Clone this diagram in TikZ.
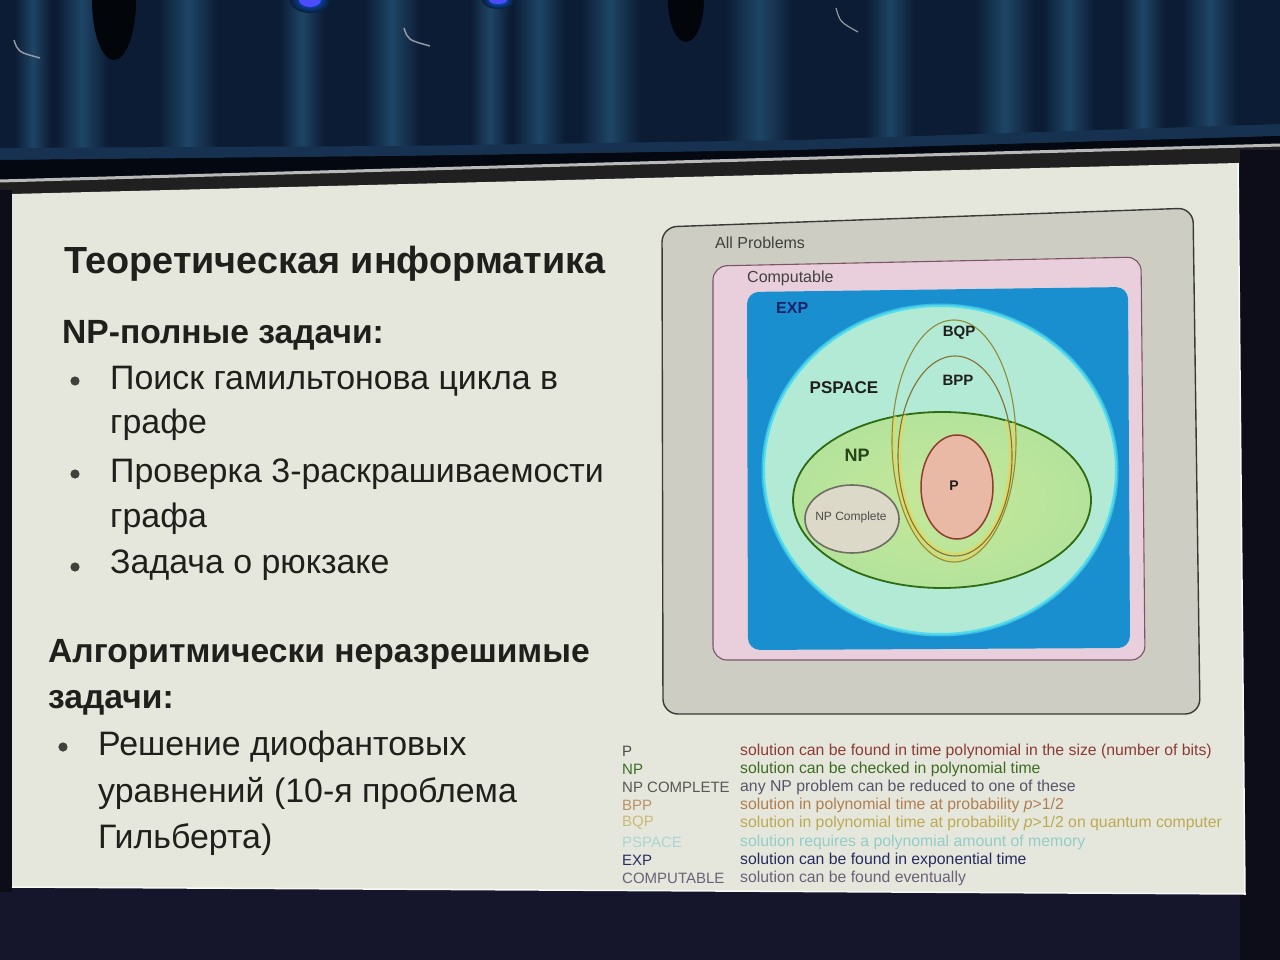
\documentclass[tikz,border=0pt]{standalone}
\usepackage{fontspec}
\setmainfont{Liberation Sans}
\begin{document}
% colours of the room and the slide
\definecolor{curtain}{HTML}{0C1C34}
\definecolor{fold}{HTML}{1E4566}
\definecolor{floorbg}{HTML}{15152B}
\definecolor{post}{HTML}{0D0D1A}
\definecolor{slidebg}{HTML}{E6E7DC}
\definecolor{txt}{HTML}{1F1F1C}
% colours of the class diagram
\definecolor{allfill}{HTML}{CDCDC4}
\definecolor{allborder}{HTML}{3A3A38}
\definecolor{compfill}{HTML}{E8CFDB}
\definecolor{compborder}{HTML}{7D5467}
\definecolor{expfill}{HTML}{1A8FD0}
\definecolor{expname}{HTML}{16226A}
\definecolor{psfill}{HTML}{B2EAD6}
\definecolor{psedge}{HTML}{52DDEE}
\definecolor{npfill}{HTML}{B4E39C}
\definecolor{npinner}{HTML}{C6E898}
\definecolor{npedge}{HTML}{2E6B12}
\definecolor{bqpedge}{HTML}{8F8C38}
\definecolor{bppedge}{HTML}{86702F}
\definecolor{ringglow}{HTML}{E2D864}
\definecolor{pfill}{HTML}{EAB9A6}
\definecolor{pedge}{HTML}{8E3F2C}
\definecolor{npcfill}{HTML}{DDD9C8}
\definecolor{npcedge}{HTML}{6E6D64}
% colours of the legend
\definecolor{lgP}{HTML}{8C3A35}
\definecolor{lgNP}{HTML}{3E6B22}
\definecolor{lgNPC}{HTML}{55546A}
\definecolor{lgBPP}{HTML}{B07E50}
\definecolor{lgBQP}{HTML}{BBAA52}
\definecolor{lgPS}{HTML}{93CCC8}
\definecolor{lgEXP}{HTML}{262C5E}
\definecolor{lgCOMP}{HTML}{6A6278}
\begin{tikzpicture}[x=1pt,y=-1pt,
  title/.style={anchor=base west,inner sep=0pt,text=txt,font=\fontsize{37.8}{44}\selectfont\bfseries},
  head/.style={anchor=base west,inner sep=0pt,text=txt,font=\fontsize{33.6}{40}\selectfont\bfseries},
  item/.style={anchor=base west,inner sep=0pt,text=txt,font=\fontsize{33.9}{40}\selectfont},
  dot/.style={fill=txt!85},
  boxname/.style={anchor=west,inner sep=0pt,font=\fontsize{16}{18}\selectfont},
  classname/.style={inner sep=0pt,text=txt,font=\fontsize{17}{19}\selectfont\bfseries},
  lgkey/.style={anchor=west,inner sep=0pt,font=\fontsize{15}{17}\selectfont},
  lgtext/.style={anchor=west,inner sep=0pt,font=\fontsize{15.8}{17}\selectfont}]
\useasboundingbox (0,0) rectangle (1280,960);

% ---------- room: curtain, screen frame, floor ----------
\fill[floorbg] (0,0) rectangle (1280,960);
\fill[curtain] (0,0) rectangle (1280,190);
\foreach \fx/\fw in {33/18,82/26,188/30,302/22,392/28,490/20,539/26,610/30,759/34,890/24,1005/30,1069/26,1143/22,1210/28}
  \shade[left color=curtain,right color=curtain,middle color=fold]
    (\fx-\fw,0) rectangle (\fx+\fw,175);
\fill[black!80!curtain] (114,0) ellipse [x radius=22, y radius=60];
\fill[black!80!curtain] (686,0) ellipse [x radius=18, y radius=42];
\draw[white!55!curtain,line width=1.5pt] (14,40) .. controls (18,52) .. (40,58);
\draw[white!55!curtain,line width=1.5pt] (404,28) .. controls (408,40) .. (430,46);
\draw[white!55!curtain,line width=1.2pt] (836,8) .. controls (840,22) .. (858,32);
\shade[inner color=blue!60!cyan,outer color=curtain] (310,0) ellipse [x radius=20, y radius=13];
\fill[blue!70!white] (310,0) ellipse [x radius=11, y radius=7];
\shade[inner color=blue!60!cyan,outer color=curtain] (498,0) ellipse [x radius=16, y radius=9];
\fill[blue!70!white] (498,0) ellipse [x radius=9, y radius=4];
% curtain hem and the dark gap below it
\fill[fold!55!curtain] (0,148) -- (400,146) -- (800,140) -- (1280,124) -- (1280,136) -- (800,150) -- (400,156) -- (0,160) -- cycle;
\fill[black!70!curtain] (0,160) -- (400,156) -- (800,150) -- (1280,136) -- (1280,146) -- (0,182) -- cycle;
% top bar of the screen
\fill[gray!25!black] (0,182) -- (1280,146) -- (1280,166) -- (0,198) -- cycle;
\draw[gray!55,line width=3pt] (0,181) -- (1280,145);
% dark posts at the sides
\fill[post] (1240,150) rectangle (1280,960);
\fill[post] (0,190) rectangle (12,892);

% ---------- slide ----------
\fill[slidebg] (12,194) -- (1238,163) -- (1245,894) -- (12,887) -- cycle;
\draw[white!70!slidebg,line width=1.5pt] (12,887) -- (1245,894) -- (1238,163);

% left column text
\node[title] (ttl) at (64,273) {Теоретическая информатика};
\node[head] (npq) at (62,343) {NP-полные задачи:};
\fill[dot] (75,381) circle (4.6);
\node[item] (i1a) at (110,389) {Поиск гамильтонова цикла в};
\node[item] (i1b) at (110,433) {графе};
\fill[dot] (75,474) circle (4.6);
\node[item] (i2a) at (110,482) {Проверка 3-раскрашиваемости};
\node[item] (i2b) at (110,527) {графа};
\fill[dot] (75,567) circle (4.6);
\node[item] (i3) at (110,573) {Задача о рюкзаке};
\node[head] (alg) at (48,662) {Алгоритмически неразрешимые};
\node[head] (algb) at (48,708) {задачи:};
\fill[dot] (63,747) circle (4.6);
\node[item] (j1a) at (98,755) {Решение диофантовых};
\node[item] (j1b) at (98,802) {уравнений (10-я проблема};
\node[item] (j1c) at (98,848) {Гильберта)};

% ---------- nested complexity classes ----------
\filldraw[fill=allfill,draw=allborder,line width=1.4pt,rounded corners=15]
  (662,227) -- (1193,208) -- (1200,714) -- (663,714) -- cycle;
\filldraw[fill=compfill,draw=compborder,line width=1.1pt,rounded corners=14]
  (713,266) -- (1141,257) -- (1145,660) -- (713,660) -- cycle;
\fill[expfill,rounded corners=12]
  (747,292) -- (1128,287) -- (1130,648) -- (748,650) -- cycle;
% PSPACE
\draw[psedge!60!expfill,line width=5pt] (940,470) ellipse [x radius=176, y radius=164];
\filldraw[fill=psfill,draw=psedge,line width=2pt] (940,470) ellipse [x radius=176, y radius=164];
% NP
\shade[inner color=npinner,outer color=npfill] (942,500) ellipse [x radius=149, y radius=88];
\draw[npedge,line width=1.8pt] (942,500) ellipse [x radius=149, y radius=88];
% NP-complete
\filldraw[fill=npcfill,draw=npcedge,line width=1.6pt] (852,519) ellipse [x radius=47, y radius=34];
% P
\filldraw[fill=pfill,draw=pedge,line width=1.5pt] (957,487) ellipse [x radius=36, y radius=52];
% BQP and BPP rings with their yellow glow inside NP
\begin{scope}
  \clip (942,500) ellipse [x radius=149, y radius=88];
  \draw[ringglow,line width=2.4pt,opacity=0.85] (954,441) ellipse [x radius=60, y radius=119];
  \draw[ringglow,line width=2.4pt,opacity=0.85] (955,456) ellipse [x radius=55, y radius=98];
\end{scope}
\draw[bqpedge,line width=1.1pt] (954,441) ellipse [x radius=62, y radius=121];
\draw[bppedge,line width=1.1pt] (955,456) ellipse [x radius=57, y radius=100];

% class names
\node[boxname,text=txt!85] (all) at (715,243) {All Problems};
\node[boxname,text=txt!85] (comp) at (747,278) {Computable};
\node[boxname,text=expname,font=\fontsize{16}{18}\selectfont\bfseries] (exp) at (776,308) {EXP};
\node[classname] (ps) at (844,388) {PSPACE};
\node[classname,font=\fontsize{15}{17}\selectfont\bfseries] (bqp) at (959,333) {BQP};
\node[classname,font=\fontsize{15}{17}\selectfont\bfseries] (bpp) at (958,380) {BPP};
\node[classname,font=\fontsize{18}{20}\selectfont\bfseries,text=npedge!50!txt] (np) at (857,455) {NP};
\node[classname,font=\fontsize{14}{16}\selectfont\bfseries] (p) at (954,486) {P};
\node[classname,font=\fontsize{12}{14}\selectfont,text=txt!80] (npc) at (851,517) {NP Complete};

% ---------- legend ----------
\node[lgkey,text=txt!80] (kP) at (622,751) {P};
\node[lgtext,text=lgP] (dP) at (740,751) {solution can be found in time polynomial in the size (number of bits)};
\node[lgkey,text=lgNP] (kNP) at (622,769) {NP};
\node[lgtext,text=lgNP] (dNP) at (740,769) {solution can be checked in polynomial time};
\node[lgkey,text=txt!75] (kNPC) at (622,787) {NP COMPLETE};
\node[lgtext,text=lgNPC] (dNPC) at (740,787) {any NP problem can be reduced to one of these};
\node[lgkey,text=lgBPP!85!white] (kBPP) at (622,805) {BPP};
\node[lgtext,text=lgBPP] (dBPP) at (740,805) {solution in polynomial time at probability \textit{p}>1/2};
\node[lgkey,text=lgBQP!80!white] (kBQP) at (622,823) {BQP};
\node[lgtext,text=lgBQP] (dBQP) at (740,823) {solution in polynomial time at probability \textit{p}>1/2 on quantum computer};
\node[lgkey,text=lgPS!80!white] (kPS) at (622,842) {PSPACE};
\node[lgtext,text=lgPS] (dPS) at (740,842) {solution requires a polynomial amount of memory};
\node[lgkey,text=lgEXP] (kEXP) at (622,860) {EXP};
\node[lgtext,text=lgEXP] (dEXP) at (740,860) {solution can be found in exponential time};
\node[lgkey,text=lgCOMP] (kCOMP) at (622,878) {COMPUTABLE};
\node[lgtext,text=lgCOMP] (dCOMP) at (740,878) {solution can be found eventually};
\end{tikzpicture}
\end{document}
